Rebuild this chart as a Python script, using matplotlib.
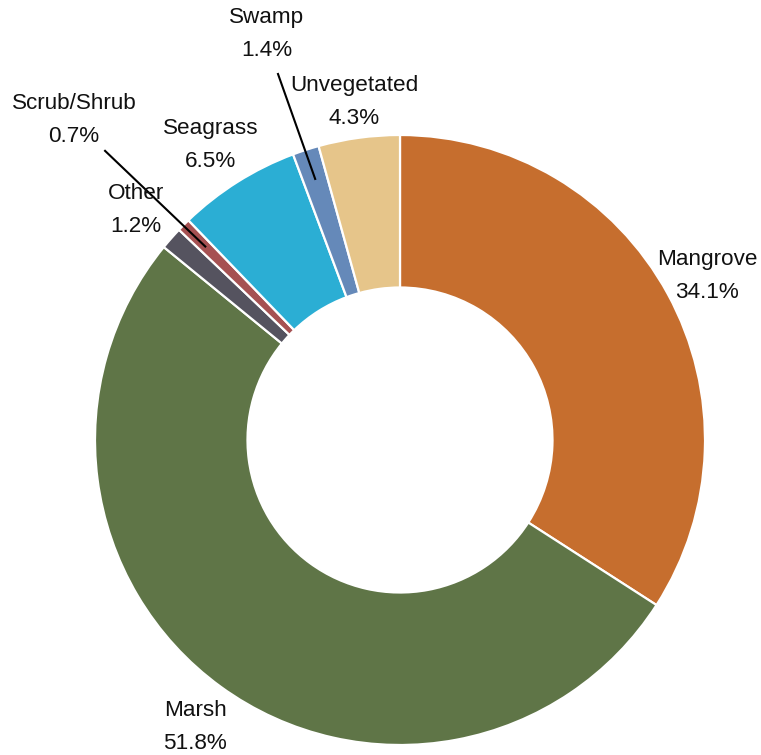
import numpy as np
import matplotlib.pyplot as plt

# Coastal habitat share (%), drawn clockwise from 12 o'clock
habitats = ['Mangrove', 'Marsh', 'Other', 'Scrub/Shrub', 'Seagrass', 'Swamp', 'Unvegetated']
shares = [34.1, 51.8, 1.2, 0.7, 6.5, 1.4, 4.3]
colors = ['#C66E2E', '#5F7547', '#55535F', '#A65152', '#2BAED4', '#6589B9', '#E6C58A']

plt.rcParams['font.family'] = ['Liberation Sans', 'DejaVu Sans']

fig = plt.figure(figsize=(7.61, 7.55), dpi=100)
ax = fig.add_axes([0, 0, 1, 1])

R = 305.0  # outer radius in px, used to place the axes window
ax.pie(shares, colors=colors, startangle=90, counterclock=False, radius=1,
       wedgeprops=dict(width=0.5, edgecolor='white', linewidth=1.6))

ax.set_xlim(-400 / R, 361 / R)
ax.set_ylim(-315 / R, 440 / R)
ax.set_aspect('equal')
ax.axis('off')

# label positions (data units)
lab_pos = {
    'Mangrove': (1.007, 0.538),
    'Marsh': (-0.672, -0.940),
    'Other': (-0.866, 0.754),
    'Scrub/Shrub': (-1.069, 1.049),
    'Seagrass': (-0.620, 0.967),
    'Swamp': (-0.436, 1.331),
    'Unvegetated': (-0.151, 1.108),
}

cum = np.cumsum([0] + shares)
for i, name in enumerate(habitats):
    x, y = lab_pos[name]
    ax.text(x, y, f'{name}\n{shares[i]:.1f}%', ha='center', va='center',
            fontsize=16.2, linespacing=1.75, color='#111111')

# leader lines for the two thin slices
for name, start in [('Swamp', (-0.400, 1.200)), ('Scrub/Shrub', (-0.967, 0.948))]:
    i = habitats.index(name)
    mid = cum[i] + shares[i] / 2
    ang = np.deg2rad(90 - mid / 100 * 360)
    ax.plot([start[0], 0.9 * np.cos(ang)], [start[1], 0.9 * np.sin(ang)],
            color='black', linewidth=1.5)

fig.savefig('out.png', dpi=100)
